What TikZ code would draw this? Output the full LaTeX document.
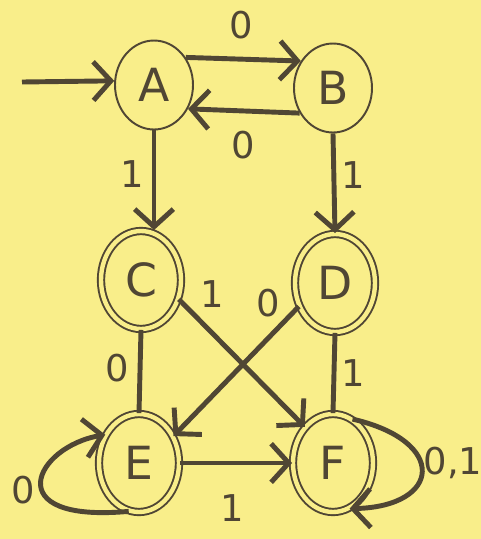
\documentclass[tikz,border=0pt]{standalone}
\usepackage{fontspec}
\setmainfont{DejaVu Sans}
\usepackage{tikz}
\usetikzlibrary{arrows.meta, calc, shapes.geometric}
\definecolor{paper}{RGB}{249,238,138}
\definecolor{ink}{RGB}{80,70,52}

\begin{document}
\begin{tikzpicture}[x=0.02cm, y=-0.02cm,
    state/.style={ellipse, draw=ink, line width=1.1pt, text=ink,
      minimum width=1.56cm, minimum height=1.78cm, inner sep=0pt,
      font=\fontsize{26}{28}\selectfont},
    accept/.style={state, double=paper, double distance=2.5pt,
      minimum width=1.6cm, minimum height=1.96cm},
    trans/.style={draw=ink, line width=2.8pt,
      -{Straight Barb[length=10pt, width=22pt]}},
    link/.style={draw=ink, line width=2.8pt},
    lab/.style={text=ink, inner sep=0pt, font=\fontsize{21}{23}\selectfont}]

    % Paper
    \fill[paper] (0,0) rectangle (481,539);
    \useasboundingbox (0,0) rectangle (481,539);

    % States
    \node[state]  (A) at (154,85)  {A};
    \node[state]  (B) at (333,88)  {B};
    \node[accept] (C) at (141,280) {C};
    \node[accept] (D) at (335,283) {D};
    \node[accept] (E) at (139,463) {E};
    \node[accept] (F) at (333,463) {F};

    % Start arrow
    \coordinate (start) at (22,82);
    \draw[trans] (start) -- (A.174);

    % Transitions
    \draw[trans] (A.41) -- (B.140);
    \draw[trans] (B.-143) -- (A.-35);
    \draw[trans] (A.south) -- (A.south |- C.north);
    \draw[trans] (B.south) -- (D.north);
    \draw[trans] (C.-27) -- (F.128);
    \draw[trans] (D.-147) -- (E.38);
    \draw[link]  (C.south) -- (E.north);
    \draw[link]  (D.south) -- (F.north);
    \draw[trans] (E.east) -- (F.west);

    % Loops
    \draw[trans] (E.258) .. controls ($(E.258)+(-132,12)$)
      and ($(E.140)+(-70,12)$) .. (E.140);
    \draw[trans] (F.66) .. controls ($(F.66)+(96,22)$)
      and ($(F.-70)+(92,-2)$) .. (F.-70);

    % Labels
    \foreach \nm/\x/\y/\txt in {lAB/241/25/0, lBA/243/145/0, lAC/132/174/1,
        lBD/353/175/1, lCF/212/294/1, lDE/268/303/0, lCE/117/368/0,
        lDF/353/373/1, lEF/232/508/1, lEE/23/490/0, lFF/453/463/{0,1}} {
      \node[lab] (\nm) at (\x,\y) {\txt};
    }
\end{tikzpicture}
\end{document}
